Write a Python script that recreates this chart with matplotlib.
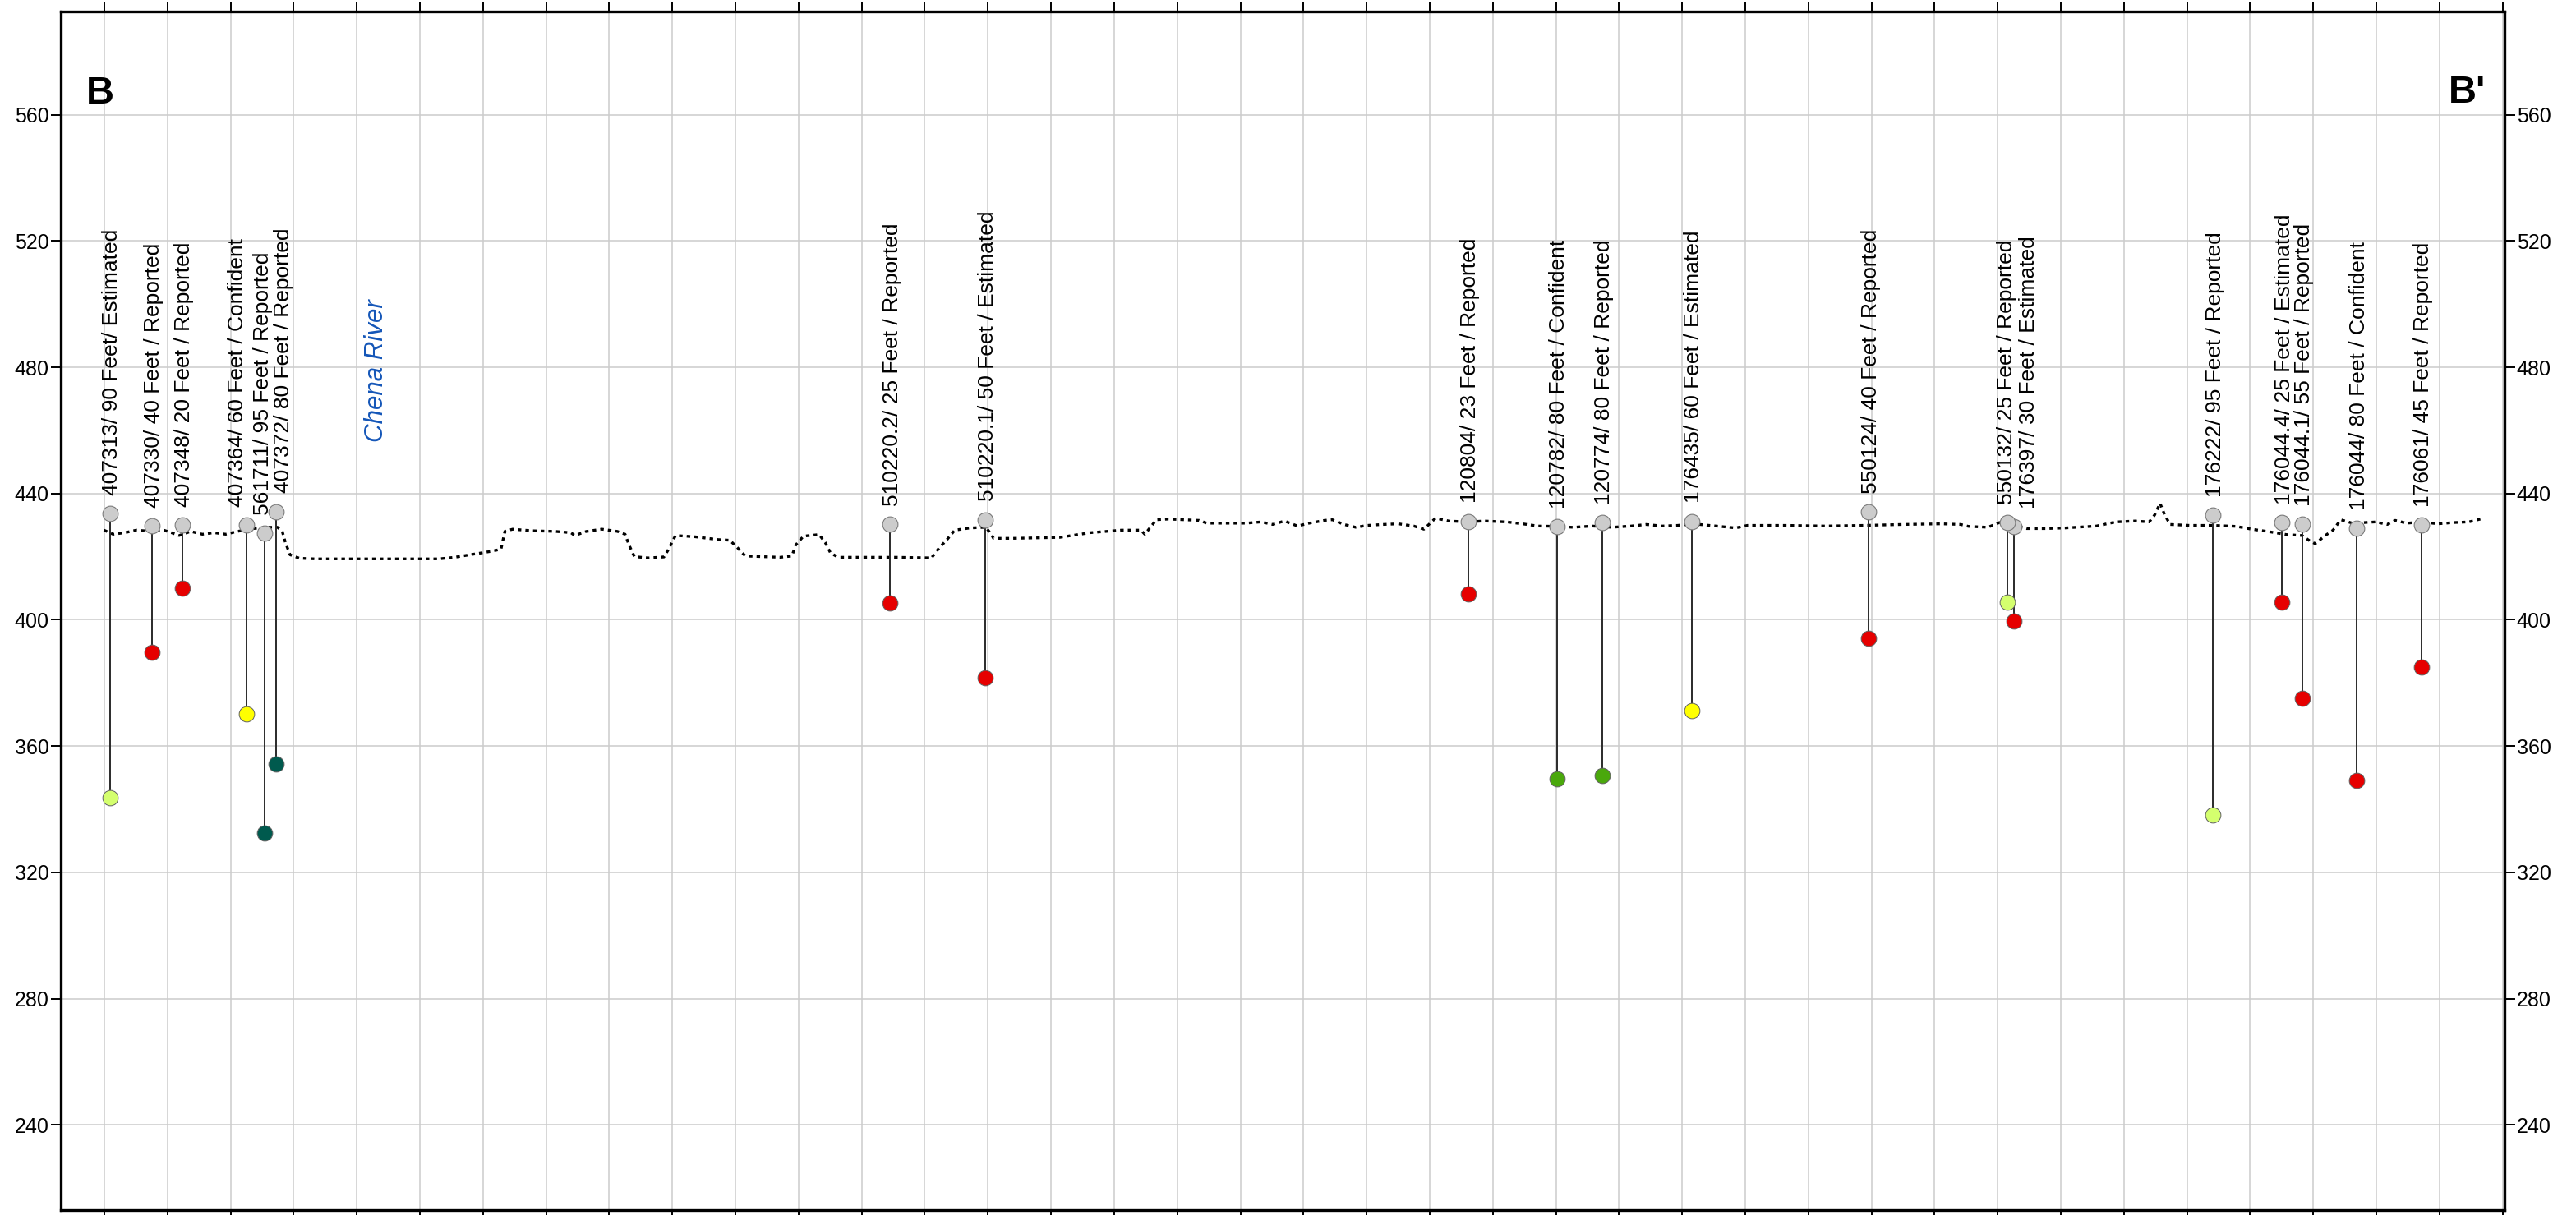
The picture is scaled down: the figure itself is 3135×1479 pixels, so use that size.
import matplotlib
matplotlib.use("Agg")
import matplotlib.pyplot as plt
from matplotlib.ticker import MultipleLocator

plt.rcParams['font.family'] = ['Liberation Sans', 'DejaVu Sans']

# ---------------------------------------------------------------- data
# Wells projected onto section B-B' (distance along section, grid step = 100)
well_ids = ["407313", "407330", "407348", "407364", "561711", "407372",
            "510220.2", "510220.1", "120804", "120782", "120774", "176435",
            "550124", "550132", "176397", "176222", "176044.4", "176044.1",
            "176044", "176061"]
well_dist = [9.1, 75.3, 123.6, 225.3, 254.3, 271.7, 1245.2, 1395.8, 2160.8,
             2301.3, 2373.0, 2515.1, 2795.6, 3015.5, 3025.9, 3341.0, 3450.3,
             3482.2, 3568.9, 3671.1]
ground_elev = [433.6, 429.8, 430.0, 430.1, 427.5, 434.3, 430.2, 431.7, 431.2,
               429.5, 430.7, 431.2, 434.2, 430.7, 429.5, 433.2, 430.7, 430.2,
               429.0, 430.0]
well_depth = [90, 40, 20, 60, 95, 80, 25, 50, 23, 80, 80, 60, 40, 25, 30, 95,
              25, 55, 80, 45]
well_quality = ["/ Estimated", " / Reported", " / Reported", " / Confident",
                " / Reported", " / Reported", " / Reported", " / Estimated",
                " / Reported", " / Confident", " / Reported", " / Estimated",
                " / Reported", " / Reported", " / Estimated", " / Reported",
                " / Estimated", " / Reported", " / Confident", " / Reported"]

# Ground surface profile along the section
terrain_dist = [-0.7, 14.0, 32.4, 50.9, 75.5, 93.9, 106.2, 118.5, 136.9, 155.3,
                173.8, 192.2, 210.6, 222.9, 235.2, 259.8, 274.5, 281.9, 286.8,
                294.2, 309.0, 333.5, 395.0, 456.4, 530.2, 554.8, 579.3, 616.2,
                628.5, 634.6, 646.9, 677.7, 714.5, 739.1, 745.3, 763.7, 788.3,
                812.9, 825.1, 831.3, 839.9, 862.0, 886.6, 892.7, 905.0, 935.7,
                972.6, 991.0, 1003.3, 1015.6, 1071.0, 1089.4, 1095.5, 1107.8,
                1132.4, 1142.2, 1150.8, 1163.1, 1255.3, 1310.6, 1322.9, 1335.2,
                1347.5, 1372.1, 1396.6, 1405.3, 1408.9, 1439.6, 1513.4, 1562.5,
                1611.7, 1642.4, 1648.6, 1667.0, 1685.4, 1734.6, 1746.9, 1808.4,
                1833.0, 1851.4, 1869.8, 1890.5, 1908.9, 1933.5, 1945.8, 1964.2,
                1982.7, 2001.1, 2025.7, 2050.3, 2074.8, 2090.8, 2109.2, 2130.1,
                2160.9, 2185.4, 2222.3, 2246.9, 2271.5, 2302.2, 2326.8, 2357.5,
                2388.2, 2418.9, 2443.5, 2468.1, 2492.7, 2517.3, 2554.1, 2584.9,
                2603.3, 2664.8, 2726.2, 2787.7, 2849.1, 2910.6, 2941.3, 2953.6,
                2984.3, 3002.7, 3021.2, 3045.8, 3076.5, 3107.2, 3156.4, 3187.1,
                3217.8, 3240.0, 3248.6, 3257.2, 3264.6, 3273.2, 3303.9, 3340.8,
                3377.7, 3402.3, 3426.9, 3457.6, 3482.2, 3494.4, 3503.0, 3519.0,
                3531.3, 3543.6, 3562.0, 3580.5, 3598.9, 3617.3, 3629.6, 3648.0,
                3672.6, 3697.2, 3721.7, 3746.3, 3764.8]
terrain_elev = [428.4, 427.1, 427.6, 428.4, 428.0, 428.4, 427.6, 426.7, 428.0,
                427.1, 427.6, 427.1, 428.0, 428.4, 428.9, 429.3, 429.3, 428.0,
                424.5, 420.6, 419.5, 419.3, 419.3, 419.3, 419.3, 419.8, 420.6,
                421.8, 422.4, 428.0, 428.7, 428.2, 428.0, 427.6, 426.7, 428.0,
                428.7, 428.0, 427.1, 423.7, 420.0, 419.6, 419.9, 421.9, 426.7,
                426.3, 425.4, 425.2, 422.8, 420.2, 419.8, 420.2, 423.7, 426.5,
                427.0, 424.5, 421.1, 419.8, 419.8, 419.6, 422.8, 425.4, 428.4,
                429.1, 429.3, 427.1, 425.8, 425.8, 426.1, 427.6, 428.4, 428.4,
                427.1, 431.7, 431.9, 431.5, 430.6, 430.6, 431.0, 430.2, 431.3,
                429.7, 430.6, 431.5, 431.7, 430.2, 429.3, 429.9, 430.2, 430.4,
                429.7, 428.7, 432.2, 431.3, 431.0, 431.3, 431.0, 430.4, 429.7,
                429.6, 429.3, 429.7, 429.3, 429.7, 430.2, 429.7, 429.9, 430.4,
                429.7, 429.1, 429.9, 429.9, 429.7, 429.9, 430.2, 430.4, 430.2,
                429.6, 429.3, 430.8, 430.2, 428.9, 428.9, 429.1, 429.7, 431.0,
                431.3, 431.0, 433.2, 436.9, 433.2, 430.2, 429.9, 429.9, 429.6,
                428.7, 428.0, 427.0, 426.7, 425.0, 424.1, 426.7, 428.4, 431.7,
                430.6, 430.8, 431.0, 430.2, 431.5, 430.6, 431.0, 430.4, 430.8,
                431.0, 431.9]

y_ticks = [240, 280, 320, 360, 400, 440, 480, 520, 560]

# ---------------------------------------------------------------- style
LIGHT_GREEN = "#d4ff6e"
RED = "#e60000"
YELLOW = "#ffff00"
TEAL = "#005a4e"
GREEN = "#4aa80c"
bottom_colors = [LIGHT_GREEN, RED, RED, YELLOW, TEAL, TEAL, RED, RED, RED,
                 GREEN, GREEN, YELLOW, RED, LIGHT_GREEN, RED, LIGHT_GREEN,
                 RED, RED, RED, RED]
# horizontal shift of each well label (points), to keep crowded labels apart
label_shift = [1.8, 1.8, 1.8, -8.0, -2.0, 7.0, 1.8, 1.8, 1.8, 1.8, 1.8, 1.8,
               1.8, -1.0, 12.7, 1.8, 1.8, 1.8, 1.8, 1.8]

W, H, DPI = 3135, 1479, 100
fig = plt.figure(figsize=(W / DPI, H / DPI), dpi=DPI, facecolor="white")
ax = fig.add_axes([74 / W, 1 - 1473 / H, (3048 - 74) / W, (1473 - 14) / H])

ax.set_xlim(-69, 3803)
ax.set_ylim(213.0, 592.7)

ax.xaxis.set_major_locator(MultipleLocator(100))
ax.set_yticks(y_ticks)
ax.grid(True, color="#cccccc", linewidth=1.1, zorder=0)
ax.set_axisbelow(True)

ax.tick_params(axis="x", which="both", direction="out", top=True, bottom=True,
               labeltop=False, labelbottom=False, length=8.5, width=1.4,
               color="black")
ax.tick_params(axis="y", which="both", direction="out", left=True, right=True,
               labelleft=True, labelright=True, length=9, width=1.4,
               labelsize=18, pad=1.5, color="black")
for s in ax.spines.values():
    s.set_linewidth(2.4)
    s.set_color("black")

# ground surface
ax.plot(terrain_dist, terrain_elev, color="black", linewidth=2.4,
        linestyle=(0, (1.3, 1.5)), zorder=3)

# wells: stem from ground elevation down to the bottom of the well
n = len(well_ids)
for i in range(n):
    top = ground_elev[i]
    bot = top - well_depth[i]
    x = well_dist[i]
    z = 10 + (n - i) * 0.01
    ax.plot([x, x], [top, bot], color="#2a2a2a", linewidth=1.4, zorder=4)
    ax.plot([x], [bot], marker="o", markersize=13.5, markerfacecolor=bottom_colors[i],
            markeredgecolor="#606060", markeredgewidth=0.7, linestyle="none",
            zorder=z)
    ax.plot([x], [top], marker="o", markersize=13.5, markerfacecolor="#cccccc",
            markeredgecolor="#7a7a7a", markeredgewidth=0.8, linestyle="none",
            zorder=z)
    label = f"{well_ids[i]}/ {well_depth[i]} Feet{well_quality[i]}"
    ax.annotate(label, xy=(x, top), xytext=(label_shift[i], 16.0),
                textcoords="offset points", rotation=90, ha="center",
                va="bottom", fontsize=19, color="black", zorder=20)

# river crossing
ax.text(431, 456.3, "Chena River", rotation=90, ha="center", va="bottom",
        fontsize=22.5, style="italic", color="#1456b8", zorder=20)

# section end letters
fig.text(105 / W, 1 - 126 / H, "B", fontsize=34, fontweight="bold",
         ha="left", va="baseline")
fig.text(3025 / W, 1 - 125 / H, "B'", fontsize=34, fontweight="bold",
         ha="right", va="baseline")

fig.savefig("out.png", dpi=DPI, facecolor="white")
